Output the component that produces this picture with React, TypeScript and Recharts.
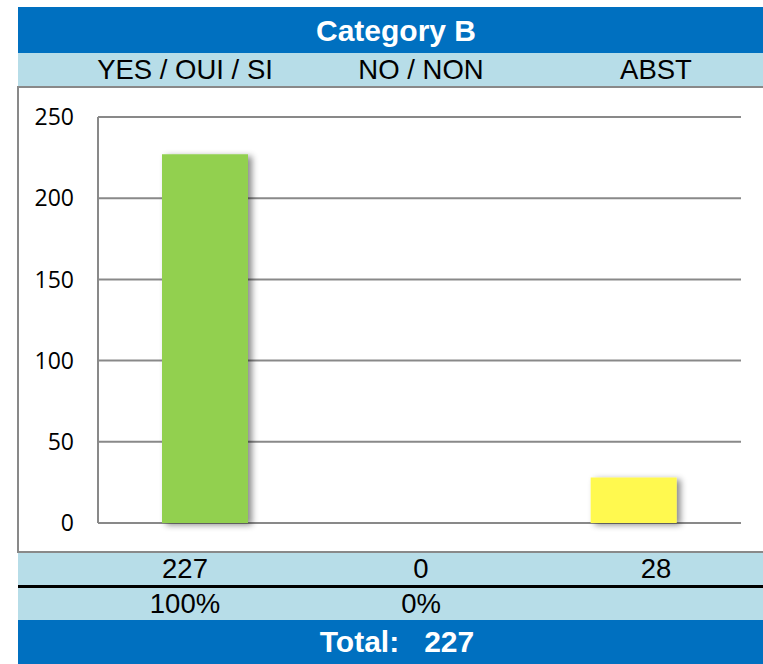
import { BarChart, Bar, XAxis, YAxis, CartesianGrid, Cell, Rectangle } from 'recharts';

const categories = ['YES / OUI / SI', 'NO / NON', 'ABST'];
const votes = [227, 0, 28];
const percents = ['100%', '0%', ''];
const barColors = ['#92D050', '#FF0000', '#FFF94F'];
const yTicks = [0, 50, 100, 150, 200, 250];
const total = 227;
const title = 'Category B';

const data = categories.map((name, i) => ({ name, value: votes[i] }));

const BLUE = '#0070C0';
const LIGHT = '#B7DDE8';
const GRID = '#898989';
const FONT = '"Liberation Sans", Arial, sans-serif';
const colCenters = [185, 421, 656];

function Row({ top, height, items, bg }: { top: number; height: number; items: string[]; bg: string }) {
    return (
        <div style={{ position: 'absolute', left: 18, top, width: 745, height, background: bg }}>
            {items.map((t, i) => (
                <div key={i} style={{
                    position: 'absolute', left: colCenters[i] - 18 - 120, width: 240, top: 0, height,
                    lineHeight: `${height}px`, textAlign: 'center', fontSize: 27.5, color: '#000', fontFamily: FONT,
                }}>{t}</div>
            ))}
        </div>
    );
}

function ShadowBar(props: any) {
    return <Rectangle {...props} filter="url(#barShadow)" />;
}

export default function App() {
    return (
        <div style={{ position: 'absolute', left: 0, top: 0, width: 763, height: 664, overflow: 'hidden', background: '#fff' }}>
            {/* title */}
            <div style={{
                position: 'absolute', left: 18, top: 7, width: 745, height: 46, background: BLUE,
                color: '#fff', fontFamily: FONT, fontWeight: 'bold', fontSize: 30, lineHeight: '48px',
            }}>
                <div style={{ position: 'absolute', left: 396 - 18 - 150, width: 300, textAlign: 'center' }}>{title}</div>
            </div>
            <Row top={53} height={34} items={categories} bg={LIGHT} />

            {/* chart box */}
            <div style={{
                position: 'absolute', left: 17, top: 86, width: 760, height: 463,
                borderLeft: `2px solid ${GRID}`, borderTop: `2px solid ${GRID}`, borderBottom: `2px solid ${GRID}`,
            }} />
            <div style={{ position: 'absolute', left: 18, top: 88 }}>
                <BarChart width={745} height={463} data={data} margin={{ top: 29, right: 22, bottom: 28, left: 0 }}>
                    <defs>
                        <filter id="barShadow" x="-20%" y="-20%" width="150%" height="150%">
                            <feDropShadow dx="4" dy="2" stdDeviation="3" floodColor="#000" floodOpacity="0.45" />
                        </filter>
                    </defs>
                    <CartesianGrid vertical={false} stroke={GRID} strokeWidth={2} />
                    <XAxis dataKey="name" hide height={0} />
                    <YAxis
                        width={80}
                        domain={[0, 250]}
                        ticks={yTicks}
                        tickLine={false}
                        tickSize={0}
                        tickMargin={24}
                        axisLine={{ stroke: GRID, strokeWidth: 2 }}
                        tick={{ fontSize: 23, fill: '#000', fontFamily: '"Open Sans", sans-serif' }}
                    />
                    <Bar dataKey="value" barSize={86} isAnimationActive={false} shape={ShadowBar}>
                        {data.map((d, i) => (
                            <Cell key={d.name} fill={barColors[i]} />
                        ))}
                    </Bar>
                </BarChart>
            </div>

            {/* bottom table */}
            <Row top={553} height={32} items={votes.map(String)} bg={LIGHT} />
            <div style={{ position: 'absolute', left: 18, top: 585, width: 745, height: 3, background: '#000' }} />
            <Row top={588} height={32} items={percents} bg={LIGHT} />
            <div style={{
                position: 'absolute', left: 18, top: 620, width: 745, height: 44, background: BLUE,
                color: '#fff', fontFamily: FONT, fontWeight: 'bold', fontSize: 30, lineHeight: '44px',
            }}>
                <div style={{ position: 'absolute', left: 397 - 18 - 150, width: 300, textAlign: 'center', whiteSpace: 'pre' }}>
                    {`Total:   ${total}`}
                </div>
            </div>
        </div>
    );
}
